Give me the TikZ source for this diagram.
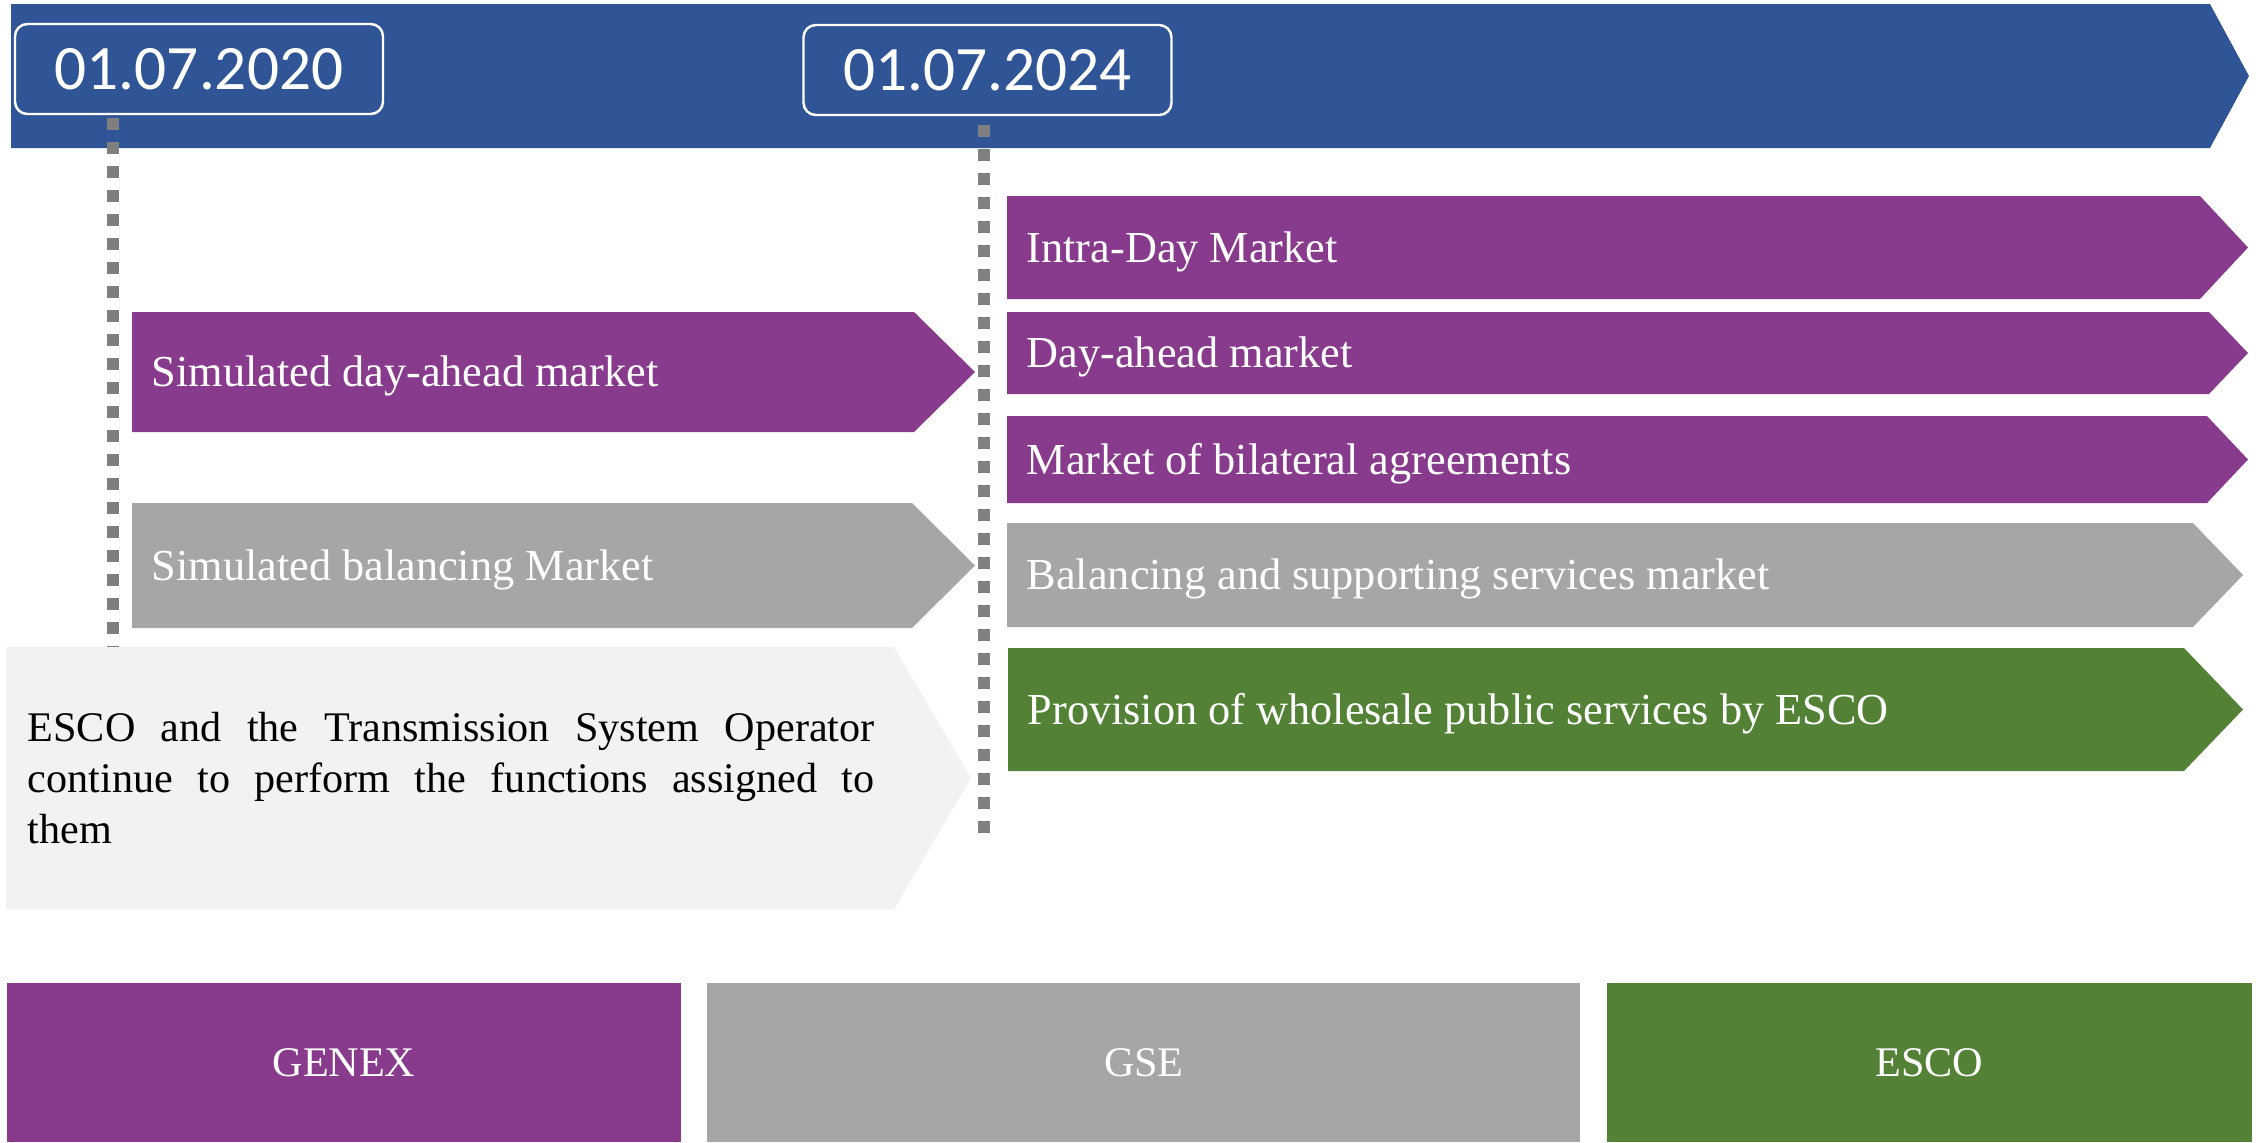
\documentclass[tikz,border=0pt]{standalone}
\usepackage{fontspec}
\setmainfont{Liberation Serif}
\newfontfamily\datefont{Carlito}
\usepackage{xcolor}
\usetikzlibrary{positioning}
\tolerance=10000
\hbadness=10000

\definecolor{bannerblue}{HTML}{2F5597}
\definecolor{genexpurple}{HTML}{883B8C}
\definecolor{gsegray}{HTML}{A6A6A6}
\definecolor{escogreen}{HTML}{538135}
\definecolor{paleback}{HTML}{F2F2F2}
\definecolor{markgray}{HTML}{7F7F7F}

% bar with a pointed right end: colour, left, top, body end, bottom, tip
\newcommand{\chevron}[6]{\fill[#1] (#2,#3) -- (#4,#3) -- (#6,{(#3+#5)/2}) -- (#4,#5) -- (#2,#5) -- cycle;}

\tikzset{
  datebox/.style={draw=white, line width=0.7pt, rounded corners=3.5pt, text=white,
    font=\datefont\fontsize{18}{20}\selectfont, minimum width=3.68cm, minimum height=0.9cm, inner sep=0pt},
  barlabel/.style={anchor=west, text=white, font=\fontsize{12.6}{14.5}\selectfont,
    text height=8.3pt, text depth=0pt, inner sep=0pt},
  keybox/.style={text=white, font=\fontsize{12}{14}\selectfont, minimum height=1.59cm, inner sep=0pt},
  yearmark/.style={markgray, line width=0.12cm, dash pattern=on 0.12cm off 0.12cm},
}

\begin{document}
\begin{tikzpicture}
    \useasboundingbox (0,0) rectangle (22.59,-11.42);

    % Timeline banner with the two dates
    \chevron{bannerblue}{0.11}{-0.04}{22.10}{-1.48}{22.49}
    \node[datebox] (start20) at (1.99,-0.69) {01.07.2020};
    \node[datebox] (start24) at (9.875,-0.70) {01.07.2024};

    % Square-dotted year markers
    \coordinate (mark20top) at (1.13,-1.18);
    \coordinate (mark20end) at (1.13,-6.48);
    \coordinate (mark24top) at (9.84,-1.25);
    \coordinate (mark24end) at (9.84,-8.33);
    \draw[yearmark] (mark20top) -- (mark20end);
    \draw[yearmark] (mark24top) -- (mark24end);

    % Transition period (2020-2024)
    \chevron{genexpurple}{1.32}{-3.12}{9.14}{-4.32}{9.75}
    \node[barlabel] (simdayahead) at (1.51,-3.72) {Simulated day-ahead market};
    \chevron{gsegray}{1.32}{-5.03}{9.12}{-6.28}{9.75}
    \node[barlabel] (simbalancing) at (1.51,-5.655) {Simulated balancing Market};
    \chevron{paleback}{0.06}{-6.47}{8.94}{-9.09}{9.71}
    \node[anchor=west, text width=8.47cm, align=justify, inner sep=0pt,
      font=\fontsize{12}{14.5}\selectfont] (transition) at (0.27,-7.78)
      {ESCO and the Transmission System Operator continue to perform the functions assigned to\linebreak them};

    % Markets from 2024 on
    \chevron{genexpurple}{10.07}{-1.96}{22.00}{-2.99}{22.48}
    \node[barlabel] (intraday) at (10.26,-2.475) {Intra-Day Market};
    \chevron{genexpurple}{10.07}{-3.12}{22.09}{-3.94}{22.48}
    \node[barlabel] (dayahead) at (10.26,-3.53) {Day-ahead market};
    \chevron{genexpurple}{10.07}{-4.16}{22.07}{-5.03}{22.48}
    \node[barlabel] (bilateral) at (10.26,-4.595) {Market of bilateral agreements};
    \chevron{gsegray}{10.07}{-5.23}{21.93}{-6.27}{22.43}
    \node[barlabel] (balancing) at (10.26,-5.75) {Balancing and supporting services market};
    \chevron{escogreen}{10.08}{-6.48}{21.84}{-7.71}{22.43}
    \node[barlabel] (provision) at (10.27,-7.095) {Provision of wholesale public services by ESCO};

    % Key
    \node[keybox, fill=genexpurple, minimum width=6.74cm] (genex) at (3.44,-10.625) {GENEX};
    \node[keybox, fill=gsegray, minimum width=8.73cm, right=0.25cm of genex] (gse) {GSE};
    \node[keybox, fill=escogreen, minimum width=6.45cm, right=0.25cm of gse] (escokey) {ESCO};
\end{tikzpicture}
\end{document}
